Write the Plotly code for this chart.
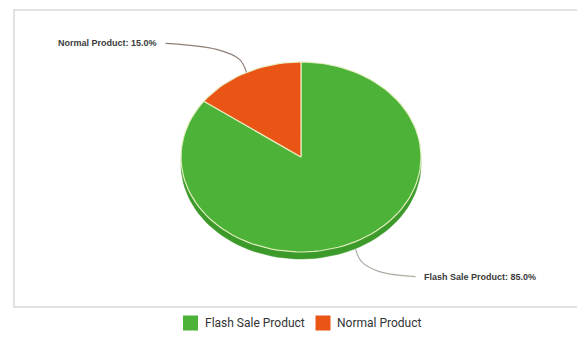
import math
import plotly.graph_objects as go

# ---- data ----
categories = ["Flash Sale Product", "Normal Product"]
values = [85.0, 15.0]
colors = ["#4db338", "#ea5516"]
rim_colors = ["#3c9a2a", "#c4420e"]
line_colors = ["#a9b1a4", "#8f7f76"]

# ---- layout constants (page pixels) ----
W, H = 585, 343
OFF = 8  # browser body margin
cx, cy = 301.0, 157.0
rx, ry = 120.0, 95.0
depth = 7.0


def pt(phi_deg, dy=0.0):
    p = math.radians(phi_deg)
    return cx + rx * math.sin(p), cy - ry * math.cos(p) + dy


def wedge(a0, a1, dy=0.0, n=120):
    xs, ys = [cx], [cy + dy]
    steps = max(2, int(n * (a1 - a0) / 360) + 2)
    for i in range(steps + 1):
        x, y = pt(a0 + (a1 - a0) * i / steps, dy)
        xs.append(x)
        ys.append(y)
    xs.append(cx)
    ys.append(cy + dy)
    return xs, ys


total = sum(values)
angles = []
acc = 0.0
for v in values:
    a0 = acc / total * 360
    acc += v
    a1 = acc / total * 360
    angles.append((a0, a1))

fig = go.Figure()

# frame
fig.add_shape(type="rect", xref="x", yref="y",
              x0=14, x1=600, y0=10, y1=307,
              line=dict(color="#e2e2e2", width=2), fillcolor="rgba(0,0,0,0)", layer="below")

# rim (3D side)
for (a0, a1), c in zip(angles, rim_colors):
    xs, ys = wedge(a0, a1, depth)
    fig.add_trace(go.Scatter(x=xs, y=ys, mode="lines", fill="toself", fillcolor=c,
                             line=dict(color=c, width=0.5), hoverinfo="skip", showlegend=False))

# top surface
for (a0, a1), c, name, v in zip(angles, colors, categories, values):
    xs, ys = wedge(a0, a1)
    fig.add_trace(go.Scatter(x=xs, y=ys, mode="lines", fill="toself", fillcolor=c,
                             line=dict(color="rgba(232,240,196,0.95)", width=1.2),
                             name=name, hoverinfo="text",
                             text=f"{name}: {v / total * 100:.1f}%", showlegend=False))

# leader lines and labels
for (a0, a1), name, v, lc in zip(angles, categories, values, line_colors):
    mid = (a0 + a1) / 2
    label = f"{name}: {v / total * 100:.1f}%"
    lower = math.cos(math.radians(mid)) < 0
    right = math.sin(math.radians(mid)) > 0
    ax, ay = pt(mid, depth if lower else 0.0)
    sx = 1 if right else -1
    if right:
        lx = [ax, ax + 6, ax + 24, ax + 60]
        ly = [ay, ay + 13, ay + 23, ay + 28]
    else:
        lx = [ax, ax - 7, ax - 30, ax - 81]
        ly = [ay, ay - 13, ay - 23, ay - 29]
    fig.add_trace(go.Scatter(x=lx, y=ly, mode="lines", line=dict(color=lc, width=1.2, shape="spline"),
                             hoverinfo="skip", showlegend=False))
    fig.add_annotation(x=lx[-1] + sx * 7, y=ly[-1], text=f"<b>{label}</b>", showarrow=False,
                       xanchor="left" if right else "right", yanchor="middle",
                       font=dict(family="Liberation Sans, Arial, sans-serif", size=9, color="#3a3a3a"))

# legend (manual)
leg_x = [190.5, 323.0]
leg_y = 323.0
fig.add_trace(go.Scatter(x=leg_x, y=[leg_y, leg_y], mode="markers",
                         marker=dict(symbol="square", size=15, color=colors, line=dict(width=0)),
                         hoverinfo="skip", showlegend=False, cliponaxis=False))
for x, name in zip(leg_x, categories):
    fig.add_annotation(x=x + 12, y=leg_y, text=name, showarrow=False, xanchor="left", yanchor="middle",
                       font=dict(family="Roboto, sans-serif", size=12, color="#333333"))

fig.update_layout(
    width=W - 2 * OFF, height=H - 2 * OFF, margin=dict(l=0, r=0, t=0, b=0),
    paper_bgcolor="white", plot_bgcolor="white",
    xaxis=dict(range=[OFF, W - OFF], visible=False, fixedrange=True),
    yaxis=dict(range=[H - OFF, OFF], visible=False, fixedrange=True),
    showlegend=False,
)

fig.write_html("out.html")
